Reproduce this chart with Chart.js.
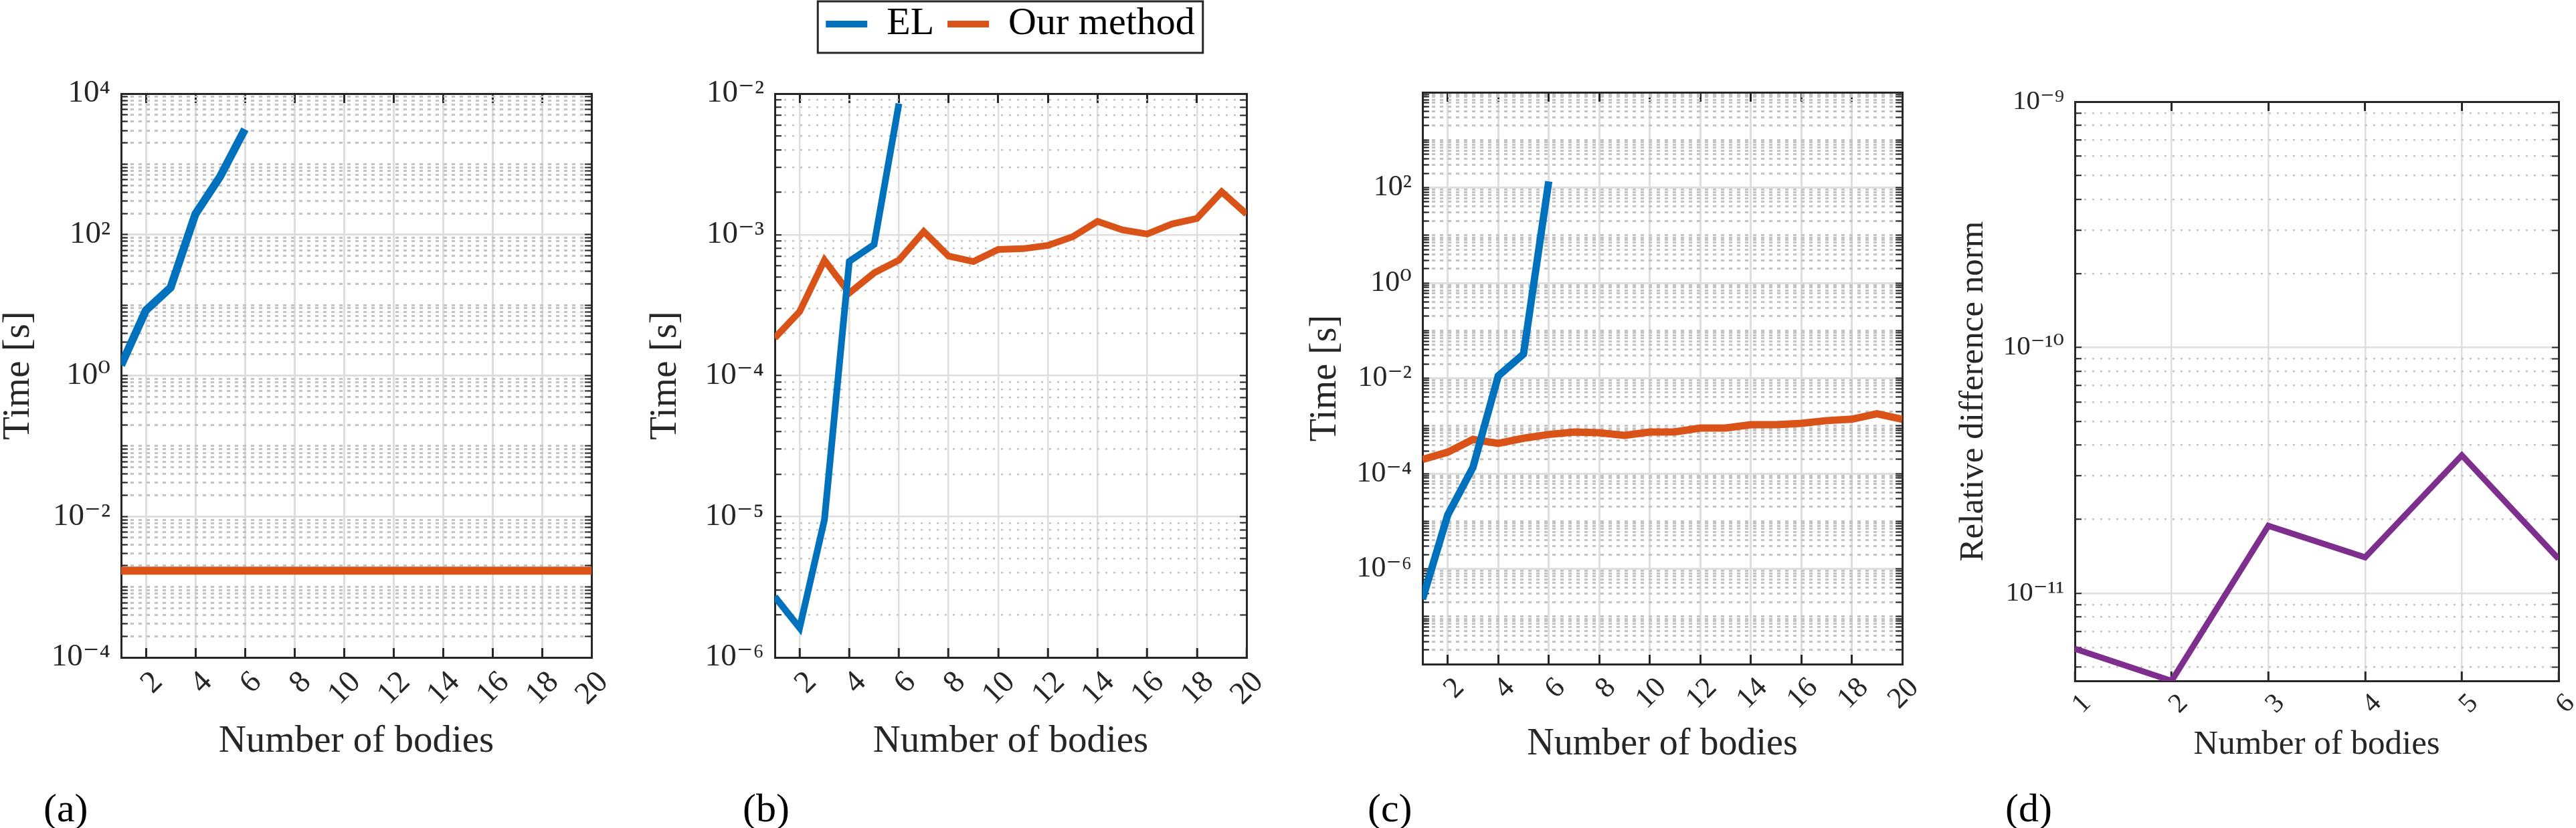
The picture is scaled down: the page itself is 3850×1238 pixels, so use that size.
<!DOCTYPE html>
<html>
<head>
<meta charset="utf-8">
<script src="https://cdn.jsdelivr.net/npm/chart.js@4.4.1/dist/chart.umd.min.js"></script>
<style>
  html, body { margin: 0; padding: 0; background: #fff; overflow: hidden; }
  body { width: 3850px; height: 1238px; position: relative; }
  .panel { position: absolute; }
  .tag { position: absolute; font-family: 'Liberation Serif', 'DejaVu Serif', serif; font-size: 60px; line-height: 1; color: #000; }
</style>
</head>
<body>
<div class="panel"><canvas id="chartA"></canvas></div>
<div class="panel"><canvas id="chartB"></canvas></div>
<div class="panel"><canvas id="chartC"></canvas></div>
<div class="panel"><canvas id="chartD"></canvas></div>
<div class="tag" style="left:65px; top:1178px">(a)</div>
<div class="tag" style="left:1110px; top:1178px">(b)</div>
<div class="tag" style="left:2044px; top:1178px">(c)</div>
<div class="tag" style="left:2997px; top:1178px">(d)</div>
<script>
// ---- data ----
const bodies = [1, 2, 3, 4, 5, 6, 7, 8, 9, 10, 11, 12, 13, 14, 15, 16, 17, 18, 19, 20];
const bodiesEL = [1, 2, 3, 4, 5, 6];
const xTicksTime = [2, 4, 6, 8, 10, 12, 14, 16, 18, 20];
const xTicksDiff = [1, 2, 3, 4, 5, 6];

// (a)
const elTimeA = [1.4, 8.4, 17.7, 195, 665, 3130];
const ourTimeA = [1.7e-3, 1.7e-3, 1.7e-3, 1.7e-3, 1.7e-3, 1.7e-3, 1.7e-3, 1.7e-3, 1.7e-3, 1.7e-3,
                  1.7e-3, 1.7e-3, 1.7e-3, 1.7e-3, 1.7e-3, 1.7e-3, 1.7e-3, 1.7e-3, 1.7e-3, 1.7e-3];
// (b)
const elTimeB = [2.7e-6, 1.62e-6, 9.5e-6, 6.45e-4, 8.5e-4, 8.5e-3];
const ourTimeB = [1.85e-4, 2.84e-4, 6.58e-4, 3.85e-4, 5.35e-4, 6.58e-4, 1.05e-3, 7.03e-4, 6.44e-4, 7.84e-4,
                  7.94e-4, 8.38e-4, 9.65e-4, 1.24e-3, 1.08e-3, 1.01e-3, 1.19e-3, 1.30e-3, 2.01e-3, 1.40e-3];
// (c)
const elTimeC = [2.3e-7, 1.35e-5, 1.35e-4, 1.12e-2, 3.2e-2, 135];
const ourTimeC = [1.97e-4, 2.8e-4, 5.2e-4, 4.3e-4, 5.5e-4, 6.6e-4, 7.4e-4, 7.2e-4, 6.3e-4, 7.4e-4,
                  7.5e-4, 9.0e-4, 9.0e-4, 1.06e-3, 1.06e-3, 1.13e-3, 1.29e-3, 1.38e-3, 1.79e-3, 1.38e-3];
// (d)
const relDiffD = [5.94e-12, 4.4e-12, 1.88e-11, 1.40e-11, 3.64e-11, 1.38e-11];

// decades that carry a label (and a solid grid line)
const yLabelExpA = [-4, -2, 0, 2, 4];
const yLabelExpB = [-6, -5, -4, -3, -2];
const yLabelExpC = [-6, -4, -2, 0, 2];
const yLabelExpD = [-11, -10, -9];

// ---- styling helpers ----
const SERIF = "'Liberation Serif', 'DejaVu Serif', serif";
const INK = '#262626';
const BLUE = '#0072BD', ORANGE = '#D95319', PURPLE = '#7E2F8E';
const SUP = { '-': '\u207B', '0': '\u2070', '1': '\u00B9', '2': '\u00B2', '3': '\u00B3', '4': '\u2074',
              '5': '\u2075', '6': '\u2076', '7': '\u2077', '8': '\u2078', '9': '\u2079' };
const supText = n => String(n).split('').map(c => SUP[c]).join('');
const expOf = v => {
  const e = Math.log10(v);
  return Math.abs(e - Math.round(e)) < 1e-6 ? Math.round(e) : null;
};

function logTicks(min, max) {
  const out = [];
  for (let e = Math.floor(Math.log10(min)); e <= Math.ceil(Math.log10(max)); e++) {
    for (let k = 1; k <= 9; k++) {
      const v = k * Math.pow(10, e);
      if (v >= min * 0.999 && v <= max * 1.001) out.push({ value: v });
    }
  }
  return out;
}

const toPoints = (xs, ys) => ys.map((y, i) => ({ x: xs[i], y: y }));

// frame around the legend, like the boxed MATLAB legend
const legendFrame = {
  id: 'legendFrame',
  afterDraw(chart) {
    const lg = chart.legend;
    if (!lg || !lg.legendHitBoxes || !lg.legendHitBoxes.length) return;
    const hb = lg.legendHitBoxes;
    const l = Math.min(...hb.map(h => h.left)) - 12;
    const r = Math.max(...hb.map(h => h.left + h.width)) + 12;
    const cy = hb[0].top + hb[0].height / 2;
    const ctx = chart.ctx;
    ctx.save();
    ctx.strokeStyle = INK;
    ctx.lineWidth = 3;
    ctx.strokeRect(l, cy - 34, r - l, 77);
    ctx.restore();
  }
};

// inward tick marks (negative length points into the plot, as in MATLAB)
const inTicks = len => ({ display: true, drawOnChartArea: false, drawTicks: true, tickLength: -len, tickColor: INK, tickWidth: 2 });

function panel(id, g, s) {
  const canvas = document.getElementById(id);
  Object.assign(canvas.parentNode.style, {
    left: g.left + 'px', top: g.top + 'px', width: g.width + 'px', height: g.height + 'px'
  });
  const isMajor = ctx => !!(ctx.tick && s.yLabelExp.includes(expOf(ctx.tick.value)));

  return new Chart(canvas, {
    type: 'line',
    data: { datasets: s.datasets },
    options: {
      responsive: true,
      maintainAspectRatio: false,
      animation: false,
      layout: { padding: 0 },
      elements: { point: { radius: 0 }, line: { tension: 0 } },
      plugins: {
        tooltip: { enabled: false },
        legend: s.legend || { display: false }
      },
      scales: {
        x: {
          type: 'linear', position: 'bottom', min: s.xMin, max: s.xMax,
          afterBuildTicks: sc => { sc.ticks = s.xTicks.map(v => ({ value: v })); },
          afterFit: sc => { sc.height = g.top + g.height - g.area.bottom; },
          ticks: {
            autoSkip: false, minRotation: 45, maxRotation: 45,
            padding: 24, labelOffset: 18, color: INK,
            font: { family: SERIF, size: s.tickSize }
          },
          grid: { color: '#dedede', lineWidth: s.majorWidth, drawTicks: true, tickLength: -14, tickColor: INK, tickWidth: 3 },
          border: { display: true, color: INK, width: 3 },
          title: {
            display: true, text: 'Number of bodies', color: INK,
            font: { family: SERIF, size: s.titleSize },
            padding: { top: 0, bottom: s.xTitlePad }
          }
        },
        xTop: {
          type: 'linear', position: 'top', min: s.xMin, max: s.xMax,
          afterBuildTicks: sc => { sc.ticks = s.xTicks.map(v => ({ value: v })); },
          afterFit: sc => {
            const lh = sc.chart.legend ? sc.chart.legend.height : 0;
            sc.height = g.area.top - g.top - lh;
          },
          ticks: { display: false },
          grid: Object.assign(inTicks(14), { tickWidth: 3 }),
          border: { display: true, color: INK, width: 3 }
        },
        y: {
          type: 'logarithmic', position: 'left', min: s.yMin, max: s.yMax,
          afterBuildTicks: sc => { sc.ticks = logTicks(s.yMin, s.yMax); },
          afterFit: sc => { sc.width = g.area.left - g.left; },
          ticks: {
            autoSkip: false, padding: 26, color: INK,
            font: { family: SERIF, size: s.tickSize },
            callback: v => {
              const e = expOf(v);
              return (e !== null && s.yLabelExp.includes(e)) ? '10' + supText(e) : '';
            }
          },
          grid: {
            drawTicks: true, tickLength: -10, tickColor: INK, tickWidth: 2,
            color: ctx => isMajor(ctx) ? '#dedede' : '#c4c4c4',
            lineWidth: ctx => isMajor(ctx) ? s.majorWidth : s.minorWidth
          },
          border: {
            display: true, color: INK, width: 3,
            dash: ctx => (ctx.tick && !isMajor(ctx)) ? s.minorDash : []
          },
          title: {
            display: true, text: s.yTitle, color: INK,
            font: { family: SERIF, size: s.titleSize },
            padding: { top: s.yTitlePad, bottom: 0 }
          }
        },
        yRight: {
          type: 'logarithmic', position: 'right', min: s.yMin, max: s.yMax,
          afterBuildTicks: sc => { sc.ticks = logTicks(s.yMin, s.yMax); },
          afterFit: sc => { sc.width = g.left + g.width - g.area.right; },
          ticks: { display: false },
          grid: inTicks(10),
          border: { display: true, color: INK, width: 3 }
        }
      }
    },
    plugins: s.plugins || []
  });
}

const line = (label, xs, ys, color, width) => ({
  label: label, data: toPoints(xs, ys),
  borderColor: color, backgroundColor: color, borderWidth: width,
  pointRadius: 0, fill: false
});

// (a)
panel('chartA',
  { left: -10, top: 0, width: 1000, height: 1238, area: { left: 181, right: 884, top: 140, bottom: 983 } },
  {
    datasets: [line('EL', bodiesEL, elTimeA, BLUE, 12), line('Our method', bodies, ourTimeA, ORANGE, 12)],
    xMin: 1, xMax: 20, xTicks: xTicksTime, yMin: 1e-4, yMax: 1e4, yLabelExp: yLabelExpA,
    yTitle: 'Time [s]', tickSize: 47, titleSize: 57, xTitlePad: 95, yTitlePad: 4,
    majorWidth: 3, minorWidth: 3, minorDash: [5, 7]
  });

// (b) carries the shared legend
panel('chartB',
  { left: 960, top: -13, width: 1100, height: 1251, area: { left: 1158, right: 1863, top: 140, bottom: 983 } },
  {
    datasets: [line('EL', bodiesEL, elTimeB, BLUE, 10), line('Our method', bodies, ourTimeB, ORANGE, 10)],
    xMin: 1, xMax: 20, xTicks: xTicksTime, yMin: 1e-6, yMax: 1e-2, yLabelExp: yLabelExpB,
    yTitle: 'Time [s]', tickSize: 47, titleSize: 57, xTitlePad: 95, yTitlePad: 1,
    majorWidth: 2.5, minorWidth: 2.5, minorDash: [3, 9],
    legend: {
      display: true, position: 'top', align: 'center',
      labels: {
        usePointStyle: true, pointStyle: 'line', pointStyleWidth: 62,
        padding: 20, color: '#000', font: { family: SERIF, size: 58 }
      }
    },
    plugins: [legendFrame]
  });

// (c)
panel('chartC',
  { left: 1945, top: 0, width: 1000, height: 1238, area: { left: 2126, right: 2843, top: 138, bottom: 993 } },
  {
    datasets: [line('EL', bodiesEL, elTimeC, BLUE, 11), line('Our method', bodies, ourTimeC, ORANGE, 11)],
    xMin: 1, xMax: 20, xTicks: xTicksTime, yMin: 1e-8, yMax: 1e4, yLabelExp: yLabelExpC,
    yTitle: 'Time [s]', tickSize: 44, titleSize: 56, xTitlePad: 91, yTitlePad: 3,
    majorWidth: 3, minorWidth: 3, minorDash: [5, 7]
  });

// (d)
panel('chartD',
  { left: 2915, top: 0, width: 1000, height: 1238, area: { left: 3101, right: 3824, top: 152, bottom: 1018 } },
  {
    datasets: [line('Relative difference', bodiesEL, relDiffD, PURPLE, 9)],
    xMin: 1, xMax: 6, xTicks: xTicksDiff, yMin: 4.4e-12, yMax: 1e-9, yLabelExp: yLabelExpD,
    yTitle: 'Relative difference norm', tickSize: 41, titleSize: 51, xTitlePad: 94, yTitlePad: 4,
    majorWidth: 2.5, minorWidth: 2.5, minorDash: [3, 9]
  });
</script>
</body>
</html>
